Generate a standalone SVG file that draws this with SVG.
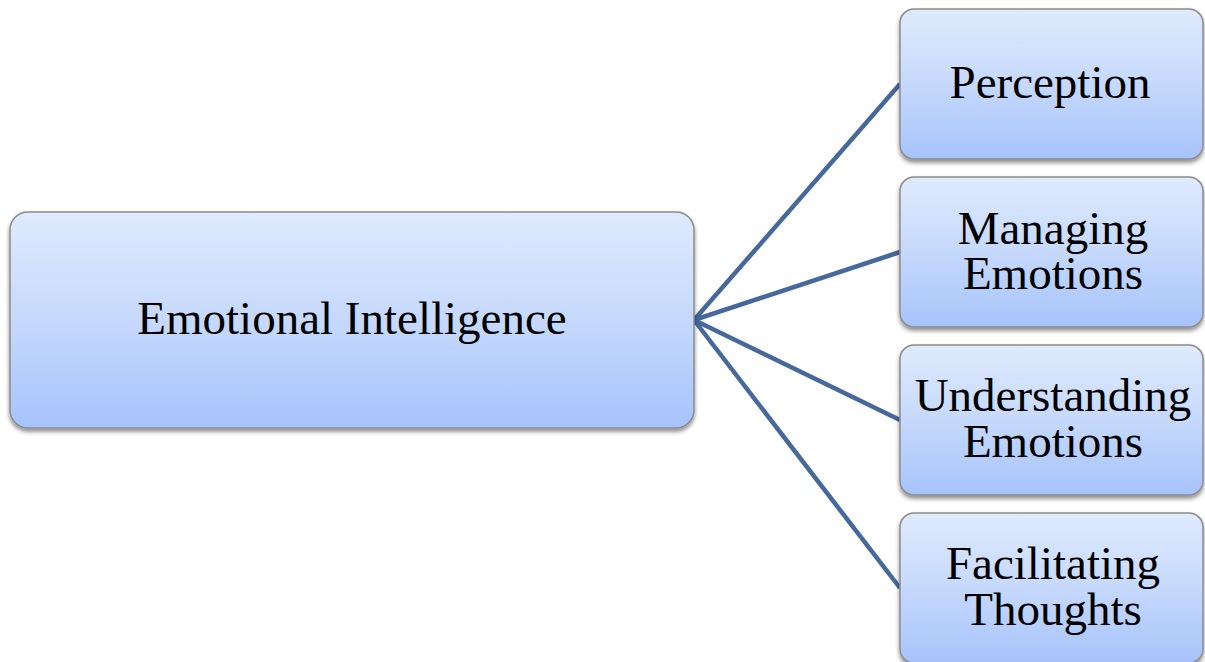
<svg xmlns="http://www.w3.org/2000/svg" width="1205" height="662" viewBox="0 0 1205 662">
<defs>
<linearGradient id="g" x1="0" y1="0" x2="0" y2="1">
<stop offset="0" stop-color="#dfeafd"/>
<stop offset="0.5" stop-color="#c6d9fc"/>
<stop offset="1" stop-color="#a6c3fa"/>
</linearGradient>
<filter id="sh" x="-10%" y="-10%" width="120%" height="130%">
<feGaussianBlur in="SourceAlpha" stdDeviation="2"/>
<feOffset dx="0" dy="3" result="b"/>
<feComponentTransfer><feFuncA type="linear" slope="0.45"/></feComponentTransfer>
<feMerge><feMergeNode/><feMergeNode in="SourceGraphic"/></feMerge>
</filter>
</defs>
<style>
.box{fill:url(#g);stroke:#8c8c8c;stroke-width:1.5;filter:url(#sh)}
.t{font-family:"Liberation Serif","DejaVu Serif",serif;font-size:47px;fill:#000;text-anchor:middle}
.c{stroke:#46689a;stroke-width:4.5;fill:none}
</style>
<rect width="1205" height="662" fill="#fff"/>
<g id="connectors">
<line class="c" x1="694" y1="320" x2="900" y2="84"/>
<line class="c" x1="694" y1="320" x2="900" y2="252"/>
<line class="c" x1="694" y1="320" x2="900" y2="420"/>
<line class="c" x1="694" y1="320" x2="900" y2="588"/>
</g>
<g id="emotional-intelligence">
<rect class="box" x="10" y="212" width="684" height="216" rx="18"/>
<text class="t" x="352" y="334">Emotional Intelligence</text>
</g>
<g id="perception">
<rect class="box" x="900" y="9" width="303" height="150" rx="14"/>
<text class="t" x="1050" y="98">Perception</text>
</g>
<g id="managing-emotions">
<rect class="box" x="900" y="177" width="303" height="150" rx="14"/>
<text class="t" x="1053" y="244">Managing</text>
<text class="t" x="1053" y="289">Emotions</text>
</g>
<g id="understanding-emotions">
<rect class="box" x="900" y="345" width="303" height="150" rx="14"/>
<text class="t" x="1053" y="411">Understanding</text>
<text class="t" x="1053" y="457">Emotions</text>
</g>
<g id="facilitating-thoughts">
<rect class="box" x="900" y="513" width="303" height="150" rx="14"/>
<text class="t" x="1053" y="579">Facilitating</text>
<text class="t" x="1053" y="625">Thoughts</text>
</g>
</svg>
